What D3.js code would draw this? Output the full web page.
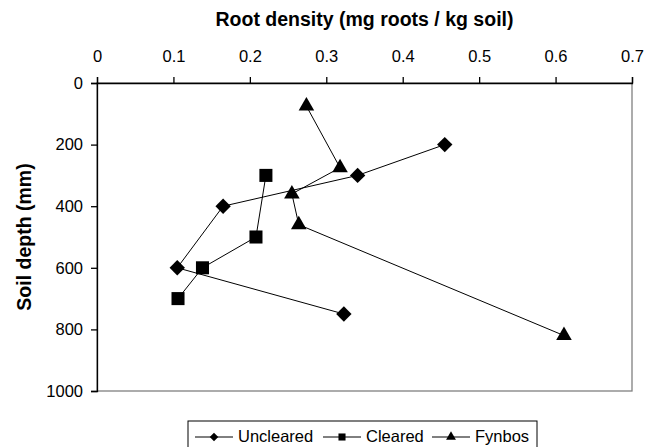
<!DOCTYPE html>
<html>
<head>
<meta charset="utf-8">
<script src="https://cdn.jsdelivr.net/npm/d3@7"></script>
<style>
  body { margin: 0; background: #fff; }
  svg { font-family: "Liberation Sans", Arial, sans-serif; }
</style>
</head>
<body>
<svg id="chart" width="656" height="447"></svg>
<script>
// root density (x) against soil depth (y), one list per site
var seriesNames = ['Uncleared', 'Cleared', 'Fynbos'];
var unclearedX = [0.455, 0.341, 0.165, 0.105, 0.323];
var unclearedY = [200, 300, 400, 600, 750];
var clearedX = [0.221, 0.208, 0.138, 0.106];
var clearedY = [300, 500, 600, 700];
var fynbosX = [0.274, 0.318, 0.255, 0.264, 0.611];
var fynbosY = [75, 275, 360, 460, 820];
var xTicks = [0, 0.1, 0.2, 0.3, 0.4, 0.5, 0.6, 0.7];
var yTicks = [0, 200, 400, 600, 800, 1000];

var svg = d3.select('#chart');
var plotLeft = 97, plotRight = 632, plotTop = 83, plotBottom = 391;

var x = d3.scaleLinear().domain([0, 0.7]).range([plotLeft, plotRight]);
var y = d3.scaleLinear().domain([0, 1000]).range([plotTop, plotBottom]);

// plot frame (grey on right/bottom)
svg.append('rect')
  .attr('x', plotLeft).attr('y', plotTop)
  .attr('width', plotRight - plotLeft).attr('height', plotBottom - plotTop)
  .attr('fill', 'none').attr('stroke', '#808080').attr('stroke-width', 1.3);

var xAxis = svg.append('g')
  .attr('transform', 'translate(0,' + plotTop + ')')
  .call(d3.axisTop(x).tickValues(xTicks).tickSize(6).tickPadding(15).tickFormat(d3.format('')));
var yAxis = svg.append('g')
  .attr('transform', 'translate(' + plotLeft + ',0)')
  .call(d3.axisLeft(y).tickValues(yTicks).tickSize(6).tickPadding(8).tickFormat(d3.format('')));

[xAxis, yAxis].forEach(function(g) {
  g.select('.domain').attr('stroke', '#000').attr('stroke-width', 1.3);
  g.selectAll('.tick line').attr('stroke', '#000').attr('stroke-width', 1.3);
  g.selectAll('.tick text')
    .attr('fill', '#000')
    .style('font-family', '"Liberation Sans", Arial, sans-serif')
    .style('font-size', '16.5px');
});

svg.append('text')
  .attr('x', (plotLeft + plotRight) / 2).attr('y', 26)
  .attr('text-anchor', 'middle')
  .style('font-size', '19.5px').style('font-weight', 'bold')
  .text('Root density (mg roots / kg soil)');

svg.append('text')
  .attr('transform', 'translate(31,' + (plotTop + plotBottom) / 2 + ') rotate(-90)')
  .attr('text-anchor', 'middle')
  .style('font-size', '19.5px').style('font-weight', 'bold')
  .text('Soil depth (mm)');

// diamonds are squares turned 45 degrees
var symbols = [d3.symbolSquare, d3.symbolSquare, d3.symbolTriangle];
var turn = [45, 0, 0];
var markSize = [118, 170, 105];
var legendSize = [36, 50, 42];

var series = [
  d3.zip(unclearedX, unclearedY),
  d3.zip(clearedX, clearedY),
  d3.zip(fynbosX, fynbosY)
];

var line = d3.line()
  .x(function(d) { return x(d[0]); })
  .y(function(d) { return y(d[1]); });

series.forEach(function(pts, i) {
  svg.append('path')
    .attr('d', line(pts))
    .attr('fill', 'none')
    .attr('stroke', '#000')
    .attr('stroke-width', 1);
});

series.forEach(function(pts, i) {
  svg.append('g').selectAll('path')
    .data(pts)
    .enter().append('path')
    .attr('d', d3.symbol().type(symbols[i]).size(markSize[i]))
    .attr('transform', function(d) {
      return 'translate(' + x(d[0]) + ',' + y(d[1]) + ') rotate(' + turn[i] + ')';
    })
    .attr('fill', '#000');
});

// legend
svg.append('rect')
  .attr('x', 188).attr('y', 421)
  .attr('width', 349).attr('height', 30)
  .attr('fill', '#fff').attr('stroke', '#000').attr('stroke-width', 1);

var legendX = [195, 323, 432];
seriesNames.forEach(function(name, i) {
  var lx = legendX[i];
  var g = svg.append('g');
  g.append('line')
    .attr('x1', lx).attr('x2', lx + 38)
    .attr('y1', 437).attr('y2', 437)
    .attr('stroke', '#000').attr('stroke-width', 1);
  g.append('path')
    .attr('d', d3.symbol().type(symbols[i]).size(legendSize[i]))
    .attr('transform', 'translate(' + (lx + 19) + ',437) rotate(' + turn[i] + ')')
    .attr('fill', '#000');
  g.append('text')
    .attr('x', lx + 43).attr('y', 442)
    .style('font-size', '16.5px')
    .text(name);
});
</script>
</body>
</html>
